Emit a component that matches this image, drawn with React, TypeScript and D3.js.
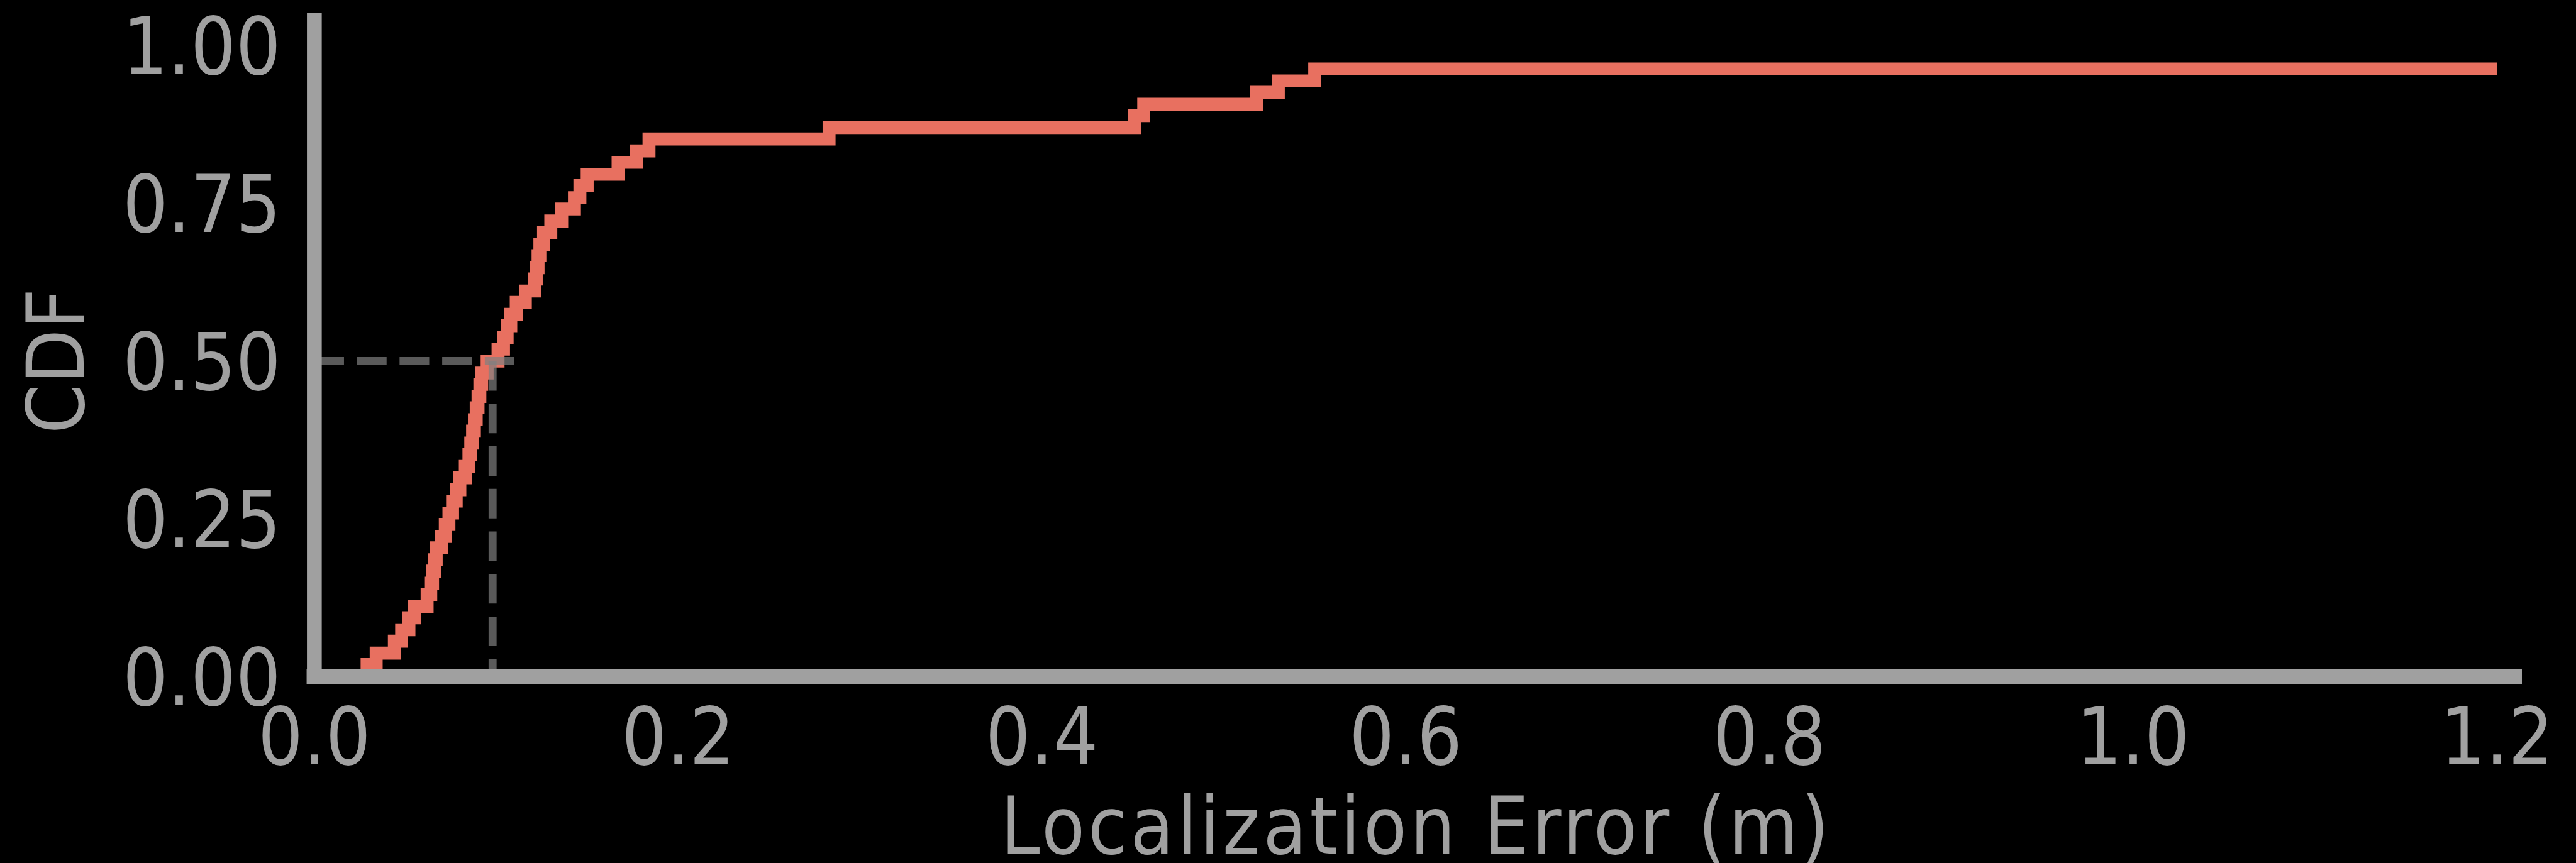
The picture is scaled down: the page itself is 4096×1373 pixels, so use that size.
import React, { useEffect, useRef } from "react";
import * as d3 from "d3";

// localization error (m) at each jump of the CDF
const errors = [
  0.029, 0.034, 0.044, 0.048, 0.052, 0.055, 0.062, 0.064, 0.065, 0.066,
  0.067, 0.070, 0.072, 0.074, 0.076, 0.078, 0.080, 0.083, 0.085, 0.086,
  0.087, 0.088, 0.089, 0.090, 0.091, 0.092, 0.095, 0.101, 0.104, 0.106,
  0.108, 0.111, 0.116, 0.121, 0.122, 0.123, 0.124, 0.126, 0.130, 0.136,
  0.143, 0.146, 0.150, 0.167, 0.177, 0.184, 0.283, 0.451, 0.456, 0.518,
  0.530, 0.550,
];
// CDF level after each jump
const cdfLevels = [
  0.019, 0.037, 0.056, 0.074, 0.093, 0.111, 0.130, 0.148, 0.167, 0.185,
  0.204, 0.222, 0.241, 0.259, 0.278, 0.296, 0.315, 0.333, 0.352, 0.370,
  0.389, 0.407, 0.426, 0.444, 0.463, 0.481, 0.500, 0.519, 0.537, 0.556,
  0.574, 0.593, 0.611, 0.630, 0.648, 0.667, 0.685, 0.704, 0.722, 0.741,
  0.759, 0.778, 0.796, 0.815, 0.833, 0.852, 0.870, 0.889, 0.907, 0.926,
  0.944, 0.963,
];
const lastError = 1.2;

const xTicks = [0, 0.2, 0.4, 0.6, 0.8, 1.0, 1.2];
const yTicks = [0, 0.25, 0.5, 0.75, 1.0];

const median = 0.098;
const medianLineEnd = 0.113;

function CdfChart() {
  const svgRef = useRef<SVGSVGElement>(null);
  const width = 4096;
  const height = 1373;
  const k = 0.982; // reference -> window

  useEffect(() => {
    const svg = d3.select(svgRef.current);
    svg.selectAll("*").remove();

    const g = svg.append("g").attr("transform", `scale(${k})`);

    // reference-space scales
    const x = d3.scaleLinear().domain([0, 1.2095]).range([509, 4071]);
    const y = d3.scaleLinear().domain([0, 1.04]).range([1096, 33]);

    const font = "'DejaVu Sans Condensed', 'DejaVu Sans', sans-serif";
    const grey = "#a0a0a0";

    const label = (sel: any) =>
      sel.attr("font-family", font)
        .attr("font-stretch", "condensed")
        .attr("font-size", 128)
        .attr("fill", grey);

    // step curve
    const pts: [number, number][] = [[errors[0], 0]];
    errors.forEach((e, i) => pts.push([e, cdfLevels[i]]));
    pts.push([lastError, cdfLevels[cdfLevels.length - 1]]);

    const line = d3.line<[number, number]>()
      .x(d => x(d[0]))
      .y(d => y(d[1]))
      .curve(d3.curveStepAfter);

    g.append("path")
      .attr("d", line(pts))
      .attr("fill", "none")
      .attr("stroke", "#e87060")
      .attr("stroke-width", 21)
      .attr("stroke-linejoin", "miter")
      .attr("stroke-linecap", "butt");

    // median guide lines
    const dash = g.append("g")
      .attr("stroke", "#808080")
      .attr("stroke-opacity", 0.7)
      .attr("stroke-width", 13)
      .attr("stroke-dasharray", "48,21");
    dash.append("line")
      .attr("x1", x(0)).attr("x2", x(medianLineEnd))
      .attr("y1", y(0.5)).attr("y2", y(0.5));
    dash.append("line")
      .attr("x1", x(median)).attr("x2", x(median))
      .attr("y1", y(0.5)).attr("y2", y(0));

    // spines
    g.append("line")
      .attr("x1", x(0)).attr("x2", x(0))
      .attr("y1", y(0)).attr("y2", y(1.04))
      .attr("stroke", grey).attr("stroke-width", 24)
      .attr("stroke-linecap", "square");
    g.append("line")
      .attr("x1", x(0)).attr("x2", x(1.2095))
      .attr("y1", y(0)).attr("y2", y(0))
      .attr("stroke", grey).attr("stroke-width", 25)
      .attr("stroke-linecap", "square");

    // tick labels
    const fmtY = d3.format(".2f");
    const fmtX = d3.format(".1f");
    g.append("g").selectAll("text")
      .data(yTicks)
      .join("text")
      .attr("x", 455)
      .attr("y", d => y(d))
      .attr("dy", "0.36em")
      .attr("text-anchor", "end")
      .call(label)
      .text(d => fmtY(d));

    g.append("g").selectAll("text")
      .data(xTicks)
      .join("text")
      .attr("x", d => x(d))
      .attr("y", 1238)
      .attr("text-anchor", "middle")
      .call(label)
      .text(d => fmtX(d));

    // axis titles
    g.append("text")
      .attr("x", (x(0) + x(1.2095)) / 2 + 3)
      .attr("y", 1383)
      .attr("text-anchor", "middle")
      .attr("letter-spacing", 5)
      .call(label)
      .text("Localization Error (m)");

    g.append("text")
      .attr("transform", `translate(135,${y(0.5)}) rotate(-90)`)
      .attr("text-anchor", "middle")
      .call(label)
      .text("CDF");
  }, []);

  return (
    <svg
      ref={svgRef}
      width={width}
      height={height}
      style={{ position: "absolute", left: 0, top: 0, display: "block", background: "#000" }}
    ></svg>
  );
}

export default function App() {
  return <CdfChart />;
}
